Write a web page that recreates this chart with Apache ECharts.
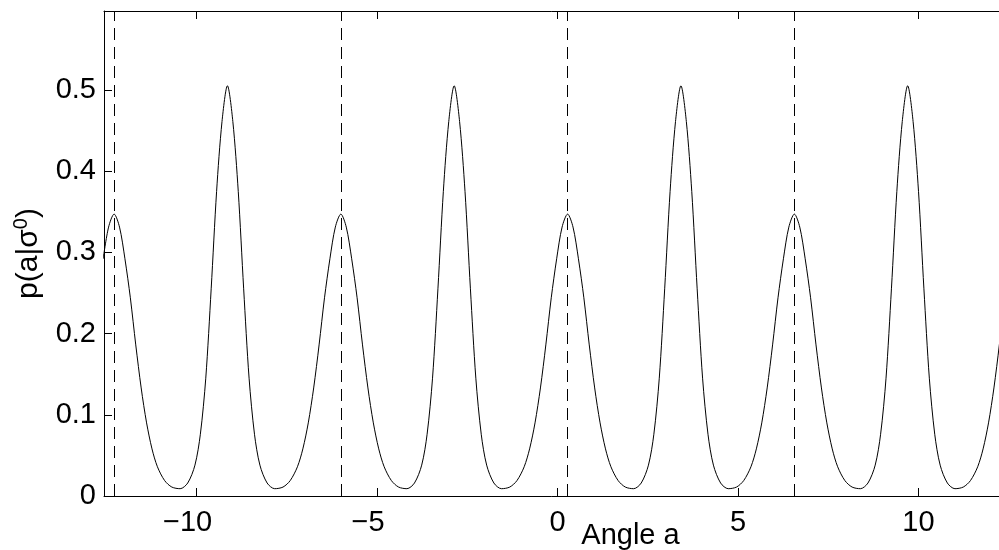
<!DOCTYPE html>
<html>
<head>
<meta charset="utf-8">
<script src="https://cdn.jsdelivr.net/npm/echarts@6/dist/echarts.min.js"></script>
<style>
  html, body { margin: 0; padding: 0; background: #fff; }
  #chart { width: 999px; height: 550px; }
</style>
</head>
<body>
<div id="chart"></div>
<script>
  // angle a (x) and p(a|sigma^0) (y)
  const angles = [
    -12.589, -12.439,
    -12.286, -12.136, -11.986, -11.836, -11.686, -11.536, -11.386, -11.236, -11.086, -10.886, -10.686, -10.456,
    -10.246, -10.046, -9.896, -9.746, -9.596, -9.446, -9.296, -9.146, -8.996, -8.846, -8.696, -8.546, -8.396, -8.246, -8.046,
    -7.836, -7.606, -7.406, -7.206, -7.056, -6.906, -6.756, -6.606, -6.456, -6.306, -6.156,
    -6.003, -5.853, -5.703, -5.553, -5.403, -5.253, -5.103, -4.953, -4.803, -4.603, -4.403, -4.173,
    -3.963, -3.763, -3.613, -3.463, -3.313, -3.163, -3.013, -2.863, -2.713, -2.563, -2.413, -2.263, -2.113, -1.963, -1.763,
    -1.553, -1.323, -1.123, -0.923, -0.773, -0.623, -0.473, -0.323, -0.173, -0.023, 0.127,
    0.28, 0.43, 0.58, 0.73, 0.88, 1.03, 1.18, 1.33, 1.48, 1.68, 1.88, 2.11,
    2.32, 2.52, 2.67, 2.82, 2.97, 3.12, 3.27, 3.42, 3.57, 3.72, 3.87, 4.02, 4.17, 4.32, 4.52,
    4.73, 4.96, 5.16, 5.36, 5.51, 5.66, 5.81, 5.96, 6.11, 6.26, 6.41,
    6.563, 6.713, 6.863, 7.013, 7.163, 7.313, 7.463, 7.613, 7.763, 7.963, 8.163, 8.393,
    8.603, 8.803, 8.953, 9.103, 9.253, 9.403, 9.553, 9.703, 9.853, 10.003, 10.153, 10.303, 10.453, 10.603, 10.803,
    11.013, 11.243, 11.443, 11.643, 11.793, 11.943, 12.093, 12.243, 12.393, 12.543, 12.693,
    12.846
  ];
  const density = [
    0.292, 0.331,
    0.347, 0.331, 0.292, 0.244, 0.186, 0.133, 0.090, 0.058, 0.036, 0.019, 0.011, 0.009,
    0.016, 0.038, 0.076, 0.145, 0.255, 0.375, 0.461, 0.505, 0.461, 0.375, 0.255, 0.145, 0.076, 0.038, 0.016,
    0.009, 0.011, 0.019, 0.036, 0.058, 0.090, 0.133, 0.186, 0.244, 0.292, 0.331,
    0.347, 0.331, 0.292, 0.244, 0.186, 0.133, 0.090, 0.058, 0.036, 0.019, 0.011, 0.009,
    0.016, 0.038, 0.076, 0.145, 0.255, 0.375, 0.461, 0.505, 0.461, 0.375, 0.255, 0.145, 0.076, 0.038, 0.016,
    0.009, 0.011, 0.019, 0.036, 0.058, 0.090, 0.133, 0.186, 0.244, 0.292, 0.331,
    0.347, 0.331, 0.292, 0.244, 0.186, 0.133, 0.090, 0.058, 0.036, 0.019, 0.011, 0.009,
    0.016, 0.038, 0.076, 0.145, 0.255, 0.375, 0.461, 0.505, 0.461, 0.375, 0.255, 0.145, 0.076, 0.038, 0.016,
    0.009, 0.011, 0.019, 0.036, 0.058, 0.090, 0.133, 0.186, 0.244, 0.292, 0.331,
    0.347, 0.331, 0.292, 0.244, 0.186, 0.133, 0.090, 0.058, 0.036, 0.019, 0.011, 0.009,
    0.016, 0.038, 0.076, 0.145, 0.255, 0.375, 0.461, 0.505, 0.461, 0.375, 0.255, 0.145, 0.076, 0.038, 0.016,
    0.009, 0.011, 0.019, 0.036, 0.058, 0.090, 0.133, 0.186, 0.244, 0.292, 0.331,
    0.347
  ];
  // dashed vertical lines
  const peakLines = [-12.286, -6.003, 0.28, 6.563];

  const xRange = [-12.566, 12.566];
  const yRange = [0, 0.597];
  const fontName = 'Liberation Sans';
  const fs = 29;

  function onStep(v, step) {
    return Math.abs(v / step - Math.round(v / step)) < 1e-6;
  }

  let chart = echarts.init(document.getElementById('chart'));
  chart.setOption({
    animation: false,
    backgroundColor: '#fff',
    grid: { left: 104, right: -12, top: 11, bottom: 54, containLabel: false, outerBoundsMode: 'none' },
    xAxis: [{
      type: 'value',
      min: xRange[0],
      max: xRange[1],
      splitNumber: 5,
      name: 'Angle a',
      nameLocation: 'middle',
      nameGap: 25,
      nameMoveOverlap: false,
      nameTextStyle: { fontFamily: fontName, fontSize: fs, color: '#000', padding: [0, 0, 0, 146] },
      axisLine: { show: true, onZero: false, lineStyle: { color: '#000', width: 1 } },
      axisTick: { show: true, inside: true, length: 8, lineStyle: { color: '#000' } },
      axisLabel: {
        fontFamily: fontName, fontSize: fs, color: '#000', margin: 12,
        showMinLabel: false, showMaxLabel: false,
        // MATLAB style minus sign, negative labels sit a bit left of their tick
        formatter: v => {
          if (!onStep(v, 5)) return '';
          return v < 0 ? '{neg|\u2212' + Math.abs(v) + '}' : String(v);
        },
        rich: {
          neg: { fontFamily: fontName, fontSize: fs, color: '#000', padding: [0, 18, 0, 0] }
        }
      },
      splitLine: { show: false }
    }, {
      type: 'value',
      position: 'top',
      min: xRange[0],
      max: xRange[1],
      splitNumber: 5,
      axisLine: { show: true, onZero: false, lineStyle: { color: '#000', width: 1 } },
      axisTick: { show: true, inside: true, length: 8, lineStyle: { color: '#000' } },
      axisLabel: { show: false },
      splitLine: { show: false }
    }],
    yAxis: {
      type: 'value',
      min: yRange[0],
      max: yRange[1],
      interval: 0.1,
      name: '{n|p(a|\u03c3}{s|0}{n|)}',
      nameLocation: 'middle',
      nameGap: 57,
      nameMoveOverlap: false,
      nameRotate: 90,
      nameTextStyle: {
        color: '#000',
        rich: {
          n: { fontFamily: fontName, fontSize: 30, color: '#000' },
          s: { fontFamily: fontName, fontSize: 20, color: '#000', verticalAlign: 'top', padding: [0, 0, 16, 0] }
        }
      },
      axisLine: { show: true, onZero: false, lineStyle: { color: '#000', width: 1 } },
      axisTick: { show: true, inside: true, length: 8, lineStyle: { color: '#000' } },
      axisLabel: {
        fontFamily: fontName, fontSize: fs, color: '#000', margin: 8,
        showMaxLabel: false,
        formatter: v => onStep(v, 0.1) ? String(+v.toFixed(1)) : ''
      },
      splitLine: { show: false }
    },
    series: [{
      type: 'line',
      data: angles.map((a, i) => [a, density[i]]),
      showSymbol: false,
      smooth: 0.3,
      clip: true,
      lineStyle: { color: '#000', width: 1 },
      markLine: {
        silent: true,
        symbol: 'none',
        label: { show: false },
        lineStyle: { color: '#000', width: 1, type: [12, 7] },
        data: peakLines.map(x => ({ xAxis: x }))
      }
    }]
  });
</script>
</body>
</html>
